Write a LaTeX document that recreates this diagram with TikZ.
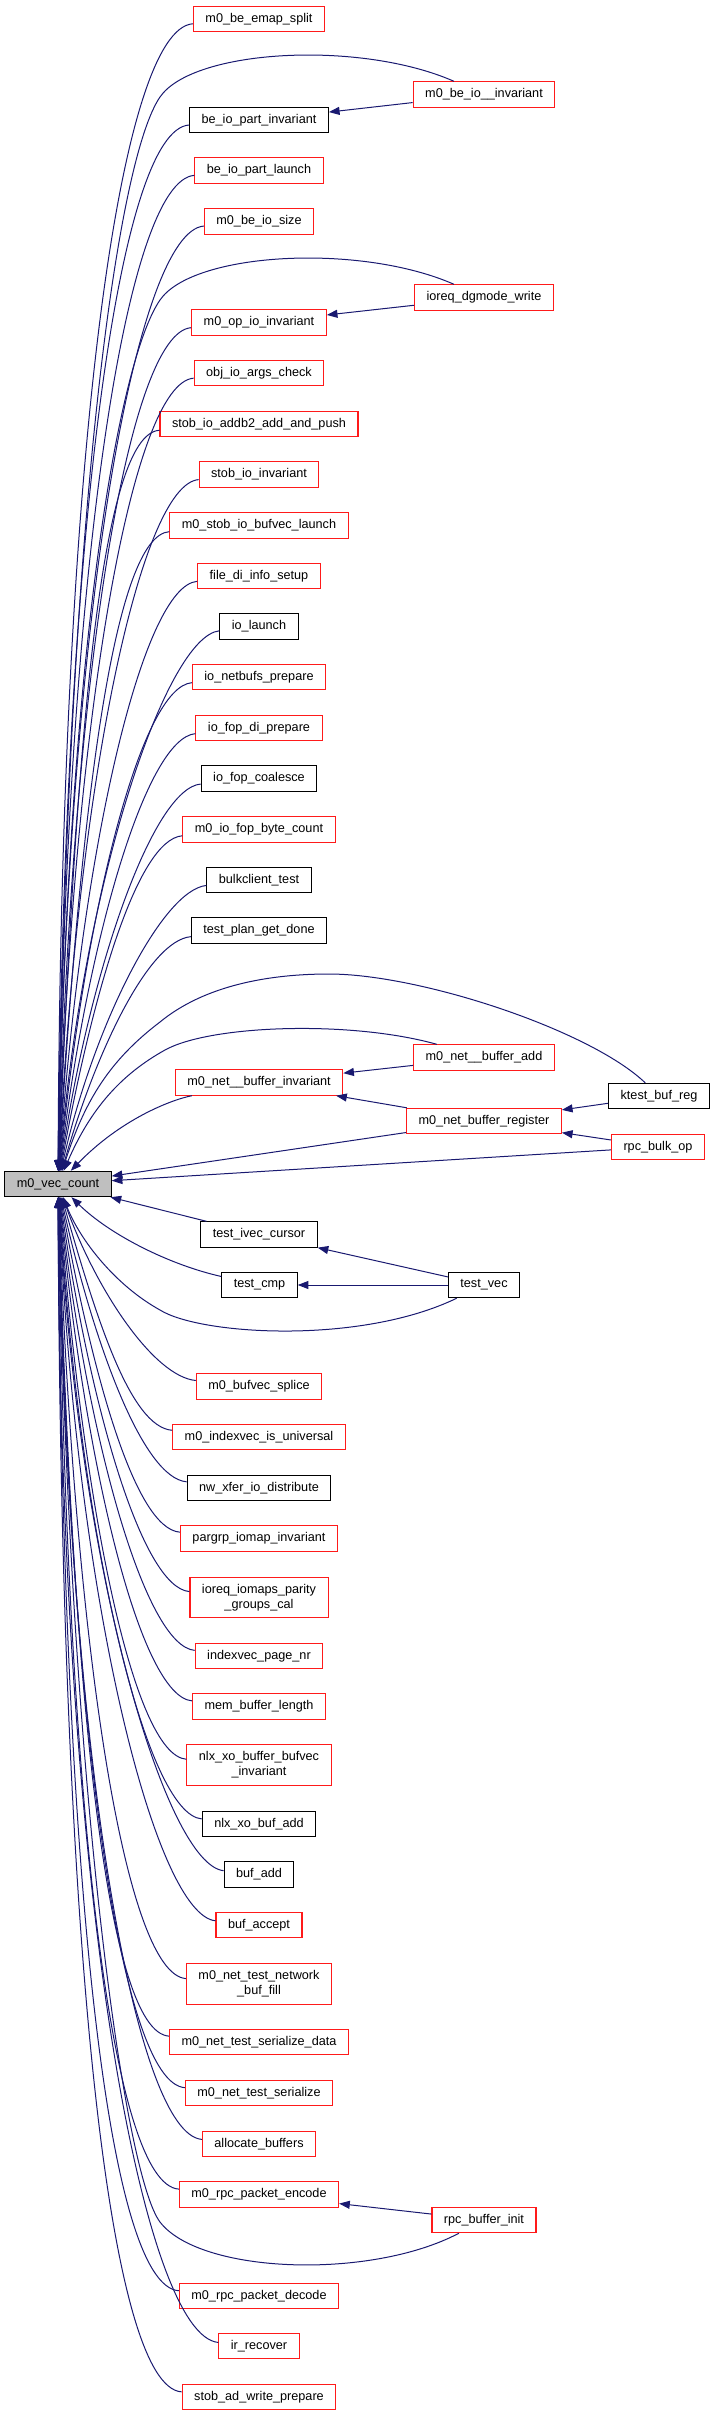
\documentclass[tikz,border=0pt]{standalone}
\usepackage{fontspec}
\setmainfont{Liberation Sans}
\usepackage{tikz}
\usetikzlibrary{arrows.meta,calc}
\definecolor{edgeblue}{HTML}{191970}
\definecolor{boxred}{HTML}{FF1A1A}
\definecolor{boxgray}{HTML}{BFBFBF}

\begin{document}
\begin{tikzpicture}[x=0.75pt, y=-0.75pt,
  every node/.style={font=\fontsize{9.5}{11.25}\selectfont, inner xsep=9pt, inner ysep=2pt,
    minimum height=19pt, align=center, line width=0.8pt, fill=white},
  fn/.style={draw=boxred},
  fnb/.style={draw=black},
  two/.style={minimum height=30.4pt},
  call/.style={<-, edgeblue, line width=0.75pt},
  >={Triangle[length=8pt,width=6pt]}]
 \useasboundingbox (0,0) rectangle (715,2416);
 \node[fnb, fill=boxgray] (vec) at (58,1184) {m0\_vec\_count};
 % callers above
 \node[fn] (emap) at (259,19) {m0\_be\_emap\_split};
 \node[fnb] (bpi) at (259,120) {be\_io\_part\_invariant};
 \node[fn] (bpl) at (259,170.5) {be\_io\_part\_launch};
 \node[fn] (bis) at (259,221.5) {m0\_be\_io\_size};
 \node[fn] (opi) at (259,322.5) {m0\_op\_io\_invariant};
 \node[fn] (oac) at (259,373) {obj\_io\_args\_check};
 \node[fn] (addb) at (259,424) {stob\_io\_addb2\_add\_and\_push};
 \node[fn] (sii) at (259,474.5) {stob\_io\_invariant};
 \node[fn] (sbl) at (259,525.5) {m0\_stob\_io\_bufvec\_launch};
 \node[fn] (fdi) at (259,576) {file\_di\_info\_setup};
 \node[fnb] (iol) at (259,626.5) {io\_launch};
 \node[fn] (inp) at (259,677) {io\_netbufs\_prepare};
 \node[fn] (fdp) at (259,728) {io\_fop\_di\_prepare};
 \node[fnb] (fco) at (259,778.5) {io\_fop\_coalesce};
 \node[fn] (fbc) at (259,829.5) {m0\_io\_fop\_byte\_count};
 \node[fnb] (bct) at (259,880) {bulkclient\_test};
 \node[fnb] (tpd) at (259,930.5) {test\_plan\_get\_done};
 \node[fn] (nbi) at (259,1082.5) {m0\_net\_\_buffer\_invariant};
 \node[fn] (bei) at (484,94.5) {m0\_be\_io\_\_invariant};
 \node[fn] (idw) at (484,297.5) {ioreq\_dgmode\_write};
 \node[fn] (nba) at (484,1057.5) {m0\_net\_\_buffer\_add};
 \node[fn] (nbr) at (484,1121) {m0\_net\_buffer\_register};
 \node[fnb] (kbr) at (659,1096) {ktest\_buf\_reg};
 \node[fn] (rbo) at (658,1147) {rpc\_bulk\_op};
 % callers below
 \node[fnb] (tic) at (259,1234.5) {test\_ivec\_cursor};
 \node[fnb] (tcm) at (259.5,1285) {test\_cmp};
 \node[fnb] (tvc) at (484,1285) {test\_vec};
 \node[fn] (bvs) at (259,1386.5) {m0\_bufvec\_splice};
 \node[fn] (ivu) at (259,1437) {m0\_indexvec\_is\_universal};
 \node[fnb] (nxd) at (259,1488) {nw\_xfer\_io\_distribute};
 \node[fn] (pgi) at (259,1538.5) {pargrp\_iomap\_invariant};
 \node[fn, two] (igc) at (259,1597.5) {ioreq\_iomaps\_parity\\\_groups\_cal};
 \node[fn] (ipn) at (259,1656) {indexvec\_page\_nr};
 \node[fn] (mbl) at (259,1706.5) {mem\_buffer\_length};
 \node[fn, two] (xbi) at (259,1765) {nlx\_xo\_buffer\_bufvec\\\_invariant};
 \node[fnb] (xba) at (259,1824) {nlx\_xo\_buf\_add};
 \node[fnb] (bad) at (259,1874.5) {buf\_add};
 \node[fn] (bac) at (259,1925) {buf\_accept};
 \node[fn, two] (tbf) at (259,1984) {m0\_net\_test\_network\\\_buf\_fill};
 \node[fn] (tsd) at (259,2042) {m0\_net\_test\_serialize\_data};
 \node[fn] (tsz) at (259,2093) {m0\_net\_test\_serialize};
 \node[fn] (alb) at (259,2144) {allocate\_buffers};
 \node[fn] (rpe) at (259,2194.5) {m0\_rpc\_packet\_encode};
 \node[fn] (rbi) at (484,2220) {rpc\_buffer\_init};
 \node[fn] (rpd) at (259,2296) {m0\_rpc\_packet\_decode};
 \node[fn] (irr) at (259,2346) {ir\_recover};
 \node[fn] (sad) at (259,2397) {stob\_ad\_write\_prepare};
 % straight calls
 \draw[call] (bpi) -- (bei);
 \draw[call] (opi) -- (idw);
 \draw[call] (nbi) -- (nba);
 \draw[call] (nbi) -- (nbr);
 \draw[call] (nbr) -- (kbr);
 \draw[call] (nbr) -- (rbo);
 \draw[call] (vec) -- (nbr);
 \draw[call] (vec) -- (rbo);
 \draw[call] (vec) -- (tic);
 \draw[call] (tic) -- (tvc);
 \draw[call] (tcm) -- (tvc);
 \draw[call] (rpe) -- (rbi);
 % arcs from the second column
 \draw[call] (vec) .. controls (68,500) and (118,158) .. (160,97)
   .. controls (193,49) and (360,40) .. (bei);
 \draw[call] (vec) .. controls (68,650) and (118,361) .. (160,300)
   .. controls (193,252) and (360,243) .. (idw);
 \draw[call] (vec) .. controls (90,1110) and (120,1075) .. (165,1050)
   .. controls (210,1025) and (350,1020) .. (nba);
 \draw[call] (vec) .. controls (85,1100) and (110,1060) .. (160,1022)
   .. controls (205,985) and (270,974) .. (329,974)
   .. controls (420,974) and (590,1030) .. (kbr);
 \draw[call] (vec) .. controls (120,1120) and (170,1100) .. (nbi);
 \draw[call] (vec) .. controls (110,1235) and (170,1265) .. (tcm);
 \draw[call] (vec) .. controls (80,1240) and (115,1285) .. (160,1310)
   .. controls (200,1335) and (360,1345) .. (tvc);
 \draw[call] (vec) .. controls (70,1800) and (125,2176) .. (160,2222)
   .. controls (200,2274) and (370,2280) .. (rbi);
 % fan of direct callers
 \foreach \nm in {emap,bpi,bpl,bis,opi,oac,addb,sii,sbl,fdi,iol,inp,fdp,fco,fbc,bct,tpd}
  \draw[call] let \p1=(vec.north), \p2=(\nm.west),
    \n1={max(0,min(1,(((\y2)-(\y1))/0.75-227)/916))} in
    (vec) .. controls ({\x1+(3+35*(1-\n1))*0.75pt},{\y1+(0.63-0.14*(1-\n1))*((\y2)-(\y1))})
    and ({\x2-(42+31*\n1)*0.75pt},{\y2-7.5pt}) .. (\nm);
 \foreach \nm in {bvs,ivu,nxd,pgi,igc,ipn,mbl,xbi,xba,bad,bac,tbf,tsd,tsz,alb,rpe,rpd,irr,sad}
  \draw[call] let \p1=(vec.south), \p2=(\nm.west),
    \n1={max(0,min(1,(((\y1)-(\y2))/0.75-227)/916))} in
    (vec) .. controls ({\x1+(3+35*(1-\n1))*0.75pt},{\y1-(0.63-0.14*(1-\n1))*((\y1)-(\y2))})
    and ({\x2-(42+31*\n1)*0.75pt},{\y2+7.5pt}) .. (\nm);
\end{tikzpicture}
\end{document}
